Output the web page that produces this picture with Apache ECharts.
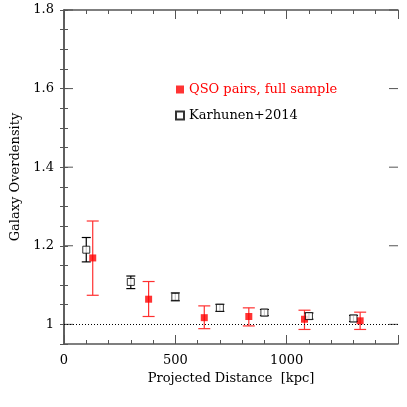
<!DOCTYPE html>
<html>
<head>
<meta charset="utf-8">
<script src="https://cdn.jsdelivr.net/npm/echarts@6/dist/echarts.min.js"></script>
<style>
  html, body { margin: 0; padding: 0; background: #fff; }
  #chart { width: 407px; height: 407px; }
</style>
</head>
<body>
<div id="chart"></div>
<script>
// QSO pairs, full sample
const qsoDist = [129, 380, 630, 830, 1080, 1330];
const qsoVal = [1.169, 1.064, 1.017, 1.020, 1.013, 1.009];
const qsoLow = [1.074, 1.020, 0.989, 0.996, 0.987, 0.987];
const qsoHigh = [1.263, 1.109, 1.047, 1.042, 1.036, 1.031];

// Karhunen+2014
const karDist = [100, 300, 500, 700, 900, 1100, 1300];
const karVal = [1.190, 1.108, 1.070, 1.042, 1.030, 1.021, 1.015];
const karLow = [1.159, 1.091, 1.060, 1.033, 1.022, 1.013, 1.007];
const karHigh = [1.221, 1.123, 1.080, 1.051, 1.038, 1.029, 1.023];

// major y ticks (labelled)
const yMajor = [1, 1.2, 1.4, 1.6, 1.8];

const font = 'DejaVu Serif';
const frame = '#555';

function errBars(dist, low, high, color, cap) {
    return {
        type: 'custom',
        silent: true,
        z: 3,
        data: dist.map((d, i) => [d, low[i], high[i]]),
        renderItem: (params, api) => {
            const lo = api.coord([api.value(0), api.value(1)]);
            const hi = api.coord([api.value(0), api.value(2)]);
            const st = { stroke: color, lineWidth: 1.2 };
            return {
                type: 'group',
                children: [
                    { type: 'line', shape: { x1: lo[0], y1: lo[1], x2: hi[0], y2: hi[1] }, style: st },
                    { type: 'line', shape: { x1: lo[0] - cap, y1: lo[1], x2: lo[0] + cap, y2: lo[1] }, style: st },
                    { type: 'line', shape: { x1: hi[0] - cap, y1: hi[1], x2: hi[0] + cap, y2: hi[1] }, style: st }
                ]
            };
        }
    };
}

const chart = echarts.init(document.getElementById('chart'));

const option = {
    animation: false,
    backgroundColor: '#fff',
    grid: { left: 64, right: 9, top: 10, bottom: 63 },
    legend: {
        left: 170,
        top: 78,
        orient: 'vertical',
        itemWidth: 8,
        itemHeight: 8,
        itemGap: 13,
        selectedMode: false,
        textStyle: { fontFamily: font, fontSize: 13, color: '#000' },
        data: [
            { name: 'QSO pairs, full sample', icon: 'rect', textStyle: { color: '#ff0000' } },
            { name: 'Karhunen+2014', icon: 'rect' }
        ]
    },
    xAxis: [{
        type: 'value',
        min: 0, max: 1500, interval: 500,
        name: 'Projected Distance  [kpc]',
        nameLocation: 'middle',
        nameGap: 28,
        nameTextStyle: { fontFamily: font, fontSize: 13, color: '#000' },
        axisLine: { show: true, lineStyle: { color: frame, width: 1.5 } },
        axisTick: { inside: true, length: 9, lineStyle: { color: frame } },
        minorTick: { show: true, splitNumber: 5, length: 4, lineStyle: { color: frame } },
        axisLabel: {
            fontFamily: font, fontSize: 13, color: '#000', margin: 10, showMaxLabel: false,
            formatter: v => String(v)
        },
        splitLine: { show: false }
    }, {
        type: 'value',
        position: 'top',
        min: 0, max: 1500, interval: 500,
        axisLine: { show: true, lineStyle: { color: frame, width: 1.5 } },
        axisTick: { inside: true, length: 9, lineStyle: { color: frame } },
        minorTick: { show: true, splitNumber: 5, length: 4, lineStyle: { color: frame } },
        axisLabel: { show: false },
        splitLine: { show: false }
    }],
    yAxis: [{
        type: 'value',
        min: 0.95, max: 1.8, interval: 0.05,
        name: 'Galaxy Overdensity',
        nameLocation: 'middle',
        nameGap: 40,
        nameTextStyle: { fontFamily: font, fontSize: 13, color: '#000' },
        axisLine: { show: true, lineStyle: { color: frame, width: 1.5 } },
        axisTick: { inside: true, length: 4, lineStyle: { color: frame } },
        axisLabel: {
            fontFamily: font, fontSize: 13, color: '#000', margin: 10,
            formatter: v => {
                const k = Math.round(v * 100);
                if (k % 20 !== 0) return '';
                return k === 100 ? '1' : (k / 100).toFixed(1);
            }
        },
        splitLine: { show: false }
    }, {
        type: 'value',
        position: 'right',
        min: 0.95, max: 1.8, interval: 0.05,
        axisLine: { show: true, lineStyle: { color: frame, width: 1.5 } },
        axisTick: { inside: true, length: 4, lineStyle: { color: frame } },
        axisLabel: { show: false },
        splitLine: { show: false }
    }],
    series: [
        // long ticks at labelled y values, both sides
        {
            type: 'custom',
            silent: true,
            data: yMajor.map(v => [0, v]),
            renderItem: (params, api) => {
                const p = api.coord([0, api.value(1)]);
                const cs = params.coordSys;
                const st = { stroke: frame, lineWidth: 1 };
                return {
                    type: 'group',
                    children: [
                        { type: 'line', shape: { x1: cs.x, y1: p[1], x2: cs.x + 9, y2: p[1] }, style: st },
                        { type: 'line', shape: { x1: cs.x + cs.width - 9, y1: p[1], x2: cs.x + cs.width, y2: p[1] }, style: st }
                    ]
                };
            }
        },
        errBars(qsoDist, qsoLow, qsoHigh, '#ff3030', 6),
        errBars(karDist, karLow, karHigh, '#000', 4.5),
        {
            name: 'QSO pairs, full sample',
            type: 'scatter',
            symbol: 'rect',
            symbolSize: 7,
            z: 4,
            itemStyle: { color: '#ff0000' },
            data: qsoDist.map((d, i) => [d, qsoVal[i]]),
            markLine: {
                silent: true,
                symbol: 'none',
                label: { show: false },
                lineStyle: { color: '#000', type: [1, 2], width: 1 },
                data: [{ yAxis: 1 }]
            }
        },
        {
            name: 'Karhunen+2014',
            type: 'scatter',
            symbol: 'rect',
            symbolSize: 7,
            z: 4,
            itemStyle: { color: '#fff', borderColor: '#000', borderWidth: 1 },
            data: karDist.map((d, i) => [d, karVal[i]])
        }
    ]
};

chart.setOption(option);
</script>
</body>
</html>
